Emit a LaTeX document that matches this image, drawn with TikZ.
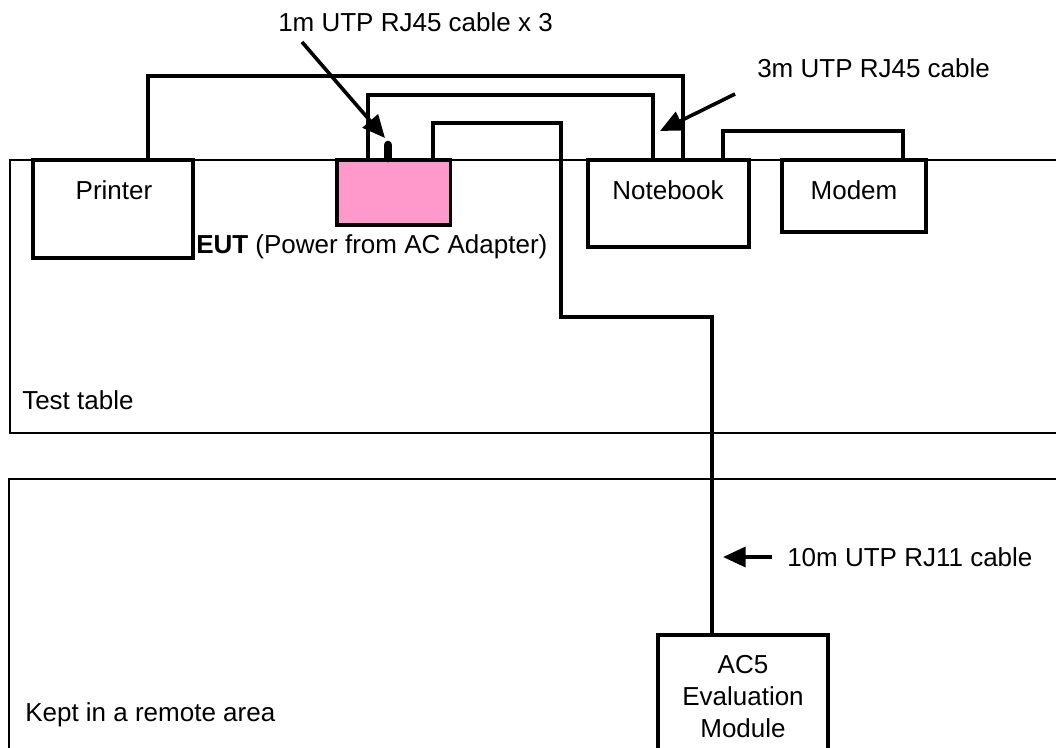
\documentclass[tikz,border=0pt]{standalone}
\usepackage{fontspec}
\setmainfont{Liberation Sans}
\usetikzlibrary{arrows.meta}
\definecolor{eutpink}{RGB}{255,153,204}
\begin{document}
\begin{tikzpicture}[x=0.75pt,y=-0.75pt,
	every node/.style={font=\fontsize{19.5}{24}\selectfont},
	tbl/.style={line width=2.1pt},
	dev/.style={draw,line width=2.6pt,inner sep=0pt,outer sep=0pt,anchor=north west},
	cable/.style={line width=2.6pt},
	callout/.style={line width=2.7pt,-{Triangle[length=17pt,width=15pt]}},
	txt/.style={inner sep=0pt,anchor=west}]
	
	\useasboundingbox (0,0) rectangle (1056,747);
	
	% Test table
	\draw[tbl] (1070,160) -- (10,160) -- (10,433) -- (1070,433);
	\node[txt] (table-txt) at (22,400) {Test table};
	
	% Remote area
	\draw[tbl] (1070,479) -- (9,479) -- (9,760);
	\node[txt] (remote-txt) at (25,715) {Kept in a remote area};
	
	% Devices on the table
	\node[dev,minimum width=120pt,minimum height=73.5pt] (printer) at (33,160) {};
	\node (printer-txt) at (114,190) {Printer};
	
	\node[dev,fill=eutpink,minimum width=85pt,minimum height=48.75pt] (eut) at (337,160) {};
	\node[txt] (eut-txt) at (196,247) {\textbf{EUT} (Power from AC Adapter)};
	
	\node[dev,minimum width=120.75pt,minimum height=65.25pt] (notebook) at (588,160) {};
	\node (notebook-txt) at (668,190) {Notebook};
	
	\node[dev,minimum width=108pt,minimum height=54pt] (modem) at (782,160) {};
	\node (modem-txt) at (854,190) {Modem};
	
	% Remote device
	\node[dev,minimum width=127.5pt,minimum height=95pt] (module) at (658,635) {};
	\node[align=center] (module-txt) at (743,697) {AC5\\Evaluation\\Module};
	
	% Ports
	\coordinate (prt-port) at (148,160);
	\coordinate (eut-port1) at (368,160);
	\coordinate (eut-port2) at (433,160);
	\coordinate (nb-port1) at (683,160);
	\coordinate (nb-port2) at (653,160);
	\coordinate (nb-port3) at (723,160);
	\coordinate (mdm-port) at (903,160);
	\coordinate (mod-port) at (712,635);
	
	% Cables
	\draw[cable] (prt-port) -- ++(0,-84) -| (nb-port1);
	\draw[cable] (eut-port1) -- ++(0,-65) -| (nb-port2);
	\draw[cable] (eut-port2) -- ++(0,-37) -| (561,317) -| (mod-port);
	\draw[cable] (nb-port3) -- ++(0,-29) -| (mdm-port);
	
	% Plug on the EUT
	\draw[line width=6.5pt,line cap=round] (388,145) -- (388,158);
	
	% Callouts
	\node[txt] (rj45a-txt) at (278,22) {1m UTP RJ45 cable x 3};
	\coordinate (rj45a-tail) at (302,42);
	\coordinate (rj45a-tip) at (385,138);
	\draw[callout] (rj45a-tail) -- (rj45a-tip);
	
	\node[txt] (rj45b-txt) at (757,68) {3m UTP RJ45 cable};
	\coordinate (rj45b-tail) at (735,94);
	\coordinate (rj45b-tip) at (660,131);
	\draw[callout] (rj45b-tail) -- (rj45b-tip);
	
	\node[txt] (rj11-txt) at (787,557) {10m UTP RJ11 cable};
	\coordinate (rj11-tail) at (772,557);
	\coordinate (rj11-tip) at (723,557);
	\draw[callout] (rj11-tail) -- (rj11-tip);
	
\end{tikzpicture}
\end{document}
